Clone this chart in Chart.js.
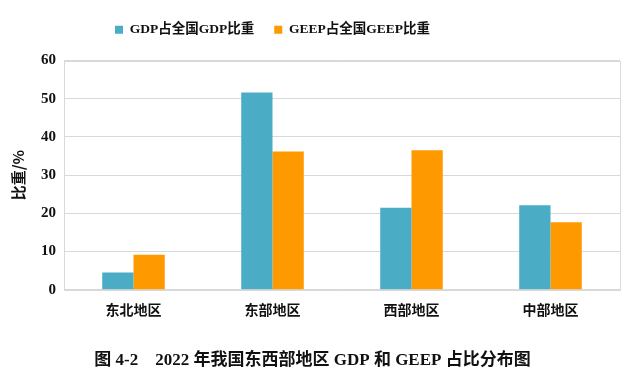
<!DOCTYPE html>
<html><head><meta charset="utf-8">
<script src="https://cdn.jsdelivr.net/npm/chart.js@4/dist/chart.umd.min.js"></script>
<style>html,body{margin:0;padding:0;background:#fff;}canvas{display:block;}</style>
</head><body>
<canvas id="c" width="640" height="381"></canvas>
<script>
const categories = ['东北地区','东部地区','西部地区','中部地区'];
const gdpShare = [4.5, 51.6, 21.5, 22.1];
const geepShare = [9.2, 36.2, 36.5, 17.7];
const yTicks = [0,10,20,30,40,50,60];
const seriesNames = ['GDP占全国GDP比重','GEEP占全国GEEP比重'];
const captionText = '图 4-2    2022 年我国东西部地区 GDP 和 GEEP 占比分布图';

const fontStack = '"Liberation Serif", "Noto Sans CJK SC", serif';
const boxPlugin = {
  id:'box',
  beforeInit(chart){
    const lg = chart.legend;
    if (lg) { const f = lg.fit.bind(lg); lg.fit = function(){ f(); this.height += 14; }; }
  },
  beforeDraw(chart){
    const lg = chart.legend;
    if (lg) { lg.right -= 80; }
  },
  afterDraw(chart){
    const a = chart.chartArea, ctx = chart.ctx;
    ctx.save(); ctx.strokeStyle='#D9D9D9'; ctx.lineWidth=1;
    ctx.strokeRect(Math.round(a.left)+0.5, Math.round(a.top)+0.5, Math.round(a.right-a.left), Math.round(a.bottom-a.top));
    ctx.restore();
  }
};
new Chart(document.getElementById('c'), {
  type:'bar',
  data:{labels:categories, datasets:[
    {label:seriesNames[0], data:gdpShare, backgroundColor:'#4BACC6'},
    {label:seriesNames[1], data:geepShare, backgroundColor:'#FF9900'}
  ]},
  options:{
    responsive:false, animation:false,
    layout:{padding:{left:5,right:20,top:3,bottom:10}},
    datasets:{bar:{categoryPercentage:0.45, barPercentage:1}},
    plugins:{
      legend:{position:'top', labels:{boxWidth:8, boxHeight:8, padding:20, color:'#111', font:{family:fontStack, size:13.5, weight:'bold'}}},
      title:{display:true, position:'bottom', text:captionText, color:'#111', padding:{top:30,bottom:0}, font:{family:fontStack, size:17, weight:'bold'}},
      tooltip:{enabled:false}
    },
    scales:{
      x:{grid:{display:false}, border:{color:'#D9D9D9'}, ticks:{color:'#111', padding:3, font:{family:'"Noto Sans CJK SC", sans-serif', size:14, weight:'bold'}}},
      y:{min:0, max:60, afterBuildTicks(ax){ax.ticks = yTicks.map(v=>({value:v}));},
         grid:{color:'#D9D9D9', drawTicks:false}, border:{color:'#D9D9D9'},
         ticks:{color:'#111', padding:8, font:{family:'"Liberation Serif", serif', size:15, weight:'bold'}},
         title:{display:true, text:'比重/%', color:'#111', padding:{bottom:6}, font:{family:'"Noto Sans CJK SC", "Liberation Serif", sans-serif', size:15, weight:'bold'}}}
    }
  },
  plugins:[boxPlugin]
});
</script>
</body></html>
